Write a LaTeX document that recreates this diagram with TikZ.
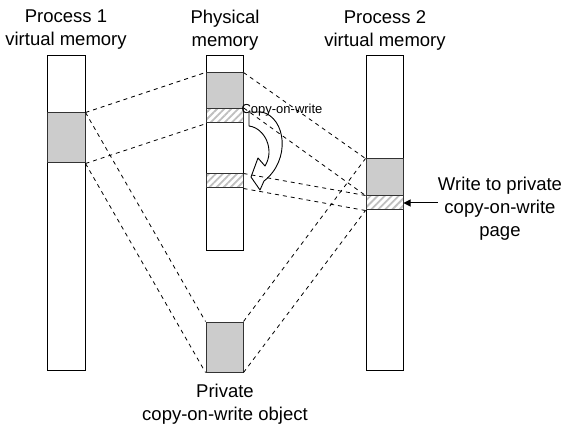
\documentclass[tikz,border=0pt]{standalone}
\usepackage{fontspec}
\setmainfont{Liberation Sans}
\usetikzlibrary{patterns.meta,arrows.meta}
\begin{document}
\begin{tikzpicture}[x=1pt,y=-1pt,
  col/.style={draw=black,line width=1pt,fill=white,inner sep=0pt,minimum width=37pt},
  grayblk/.style={draw=black!80,line width=1pt,fill=black!20,inner sep=0pt,minimum width=37pt},
  hatchblk/.style={draw=black!80,line width=1pt,inner sep=0pt,minimum width=37pt,
     pattern={Lines[angle=45,distance=5pt,line width=1.8pt]},pattern color=black!25},
  dline/.style={dash pattern=on 4pt off 4pt,line width=0.8pt},
  lbl/.style={align=center,font=\fontsize{18.5}{23}\selectfont,inner sep=0pt}]
\useasboundingbox (0,0) rectangle (568,425);
% columns
\node[col,minimum width=38pt,minimum height=314pt] (p1) at (66,213) {};
\node[col,minimum height=194pt] (phys) at (224.5,153) {};
\node[col,minimum height=314pt] (p2) at (384.5,213) {};
% blocks
\node[grayblk,minimum width=38pt,minimum height=50pt] (p1g) at (66,138) {};
\node[grayblk,minimum height=36pt] (physg) at (224.5,91) {};
\node[hatchblk,minimum height=14pt] (physh1) at (224.5,116) {};
\node[hatchblk,minimum height=14pt] (physh2) at (224.5,181) {};
\node[grayblk,minimum height=37pt] (p2g) at (384.5,177.5) {};
\node[hatchblk,minimum height=14pt] (p2h) at (384.5,203) {};
\node[grayblk,minimum height=50pt] (priv) at (224.5,347) {};
% dashed mappings
\draw[dline] (p1g.north east) -- (physg.north west);
\draw[dline] (p1g.south east) -- (physh1.south west);
\draw[dline] (p1g.north east) -- (priv.north west);
\draw[dline] (p1g.south east) -- (priv.south west);
\draw[dline] (physg.north east) -- (p2g.north west);
\draw[dline] (physh1.north east) -- (p2h.north west);
\draw[dline] (physh2.north east) -- (p2h.north west);
\draw[dline] (physh2.south east) -- (p2h.south west);
\draw[dline] (priv.north east) -- (p2g.north west);
\draw[dline] (priv.south east) -- (p2h.south west);
% copy-on-write curved arrow
\draw[line width=0.9pt,line join=round]
  (249,112) -- (262,112) .. controls (286,118) and (291,160) .. (264,181)
  -- (260,190) -- (251,177) -- (258,158) -- (265,166)
  .. controls (275,150) and (265,128) .. (249,126) -- cycle;
\node[font=\fontsize{13}{15}\selectfont,inner sep=0pt] (cow) at (282,110) {Copy-on-write};
% labels
\node[lbl] (t1) at (66,30) {Process 1\\virtual memory};
\node[lbl] (t2) at (225,30) {Physical\\memory};
\node[lbl] (t3) at (385,30) {Process 2\\virtual memory};
\node[lbl] (tw) at (500,209) {Write to private\\copy-on-write\\page};
\node[lbl] (tp) at (225,404) {Private\\copy-on-write object};
\draw[line width=1pt,-{Triangle[length=7pt,width=7pt]}] (p2h.east -| tw.west) -- (p2h.east);
\end{tikzpicture}
\end{document}
